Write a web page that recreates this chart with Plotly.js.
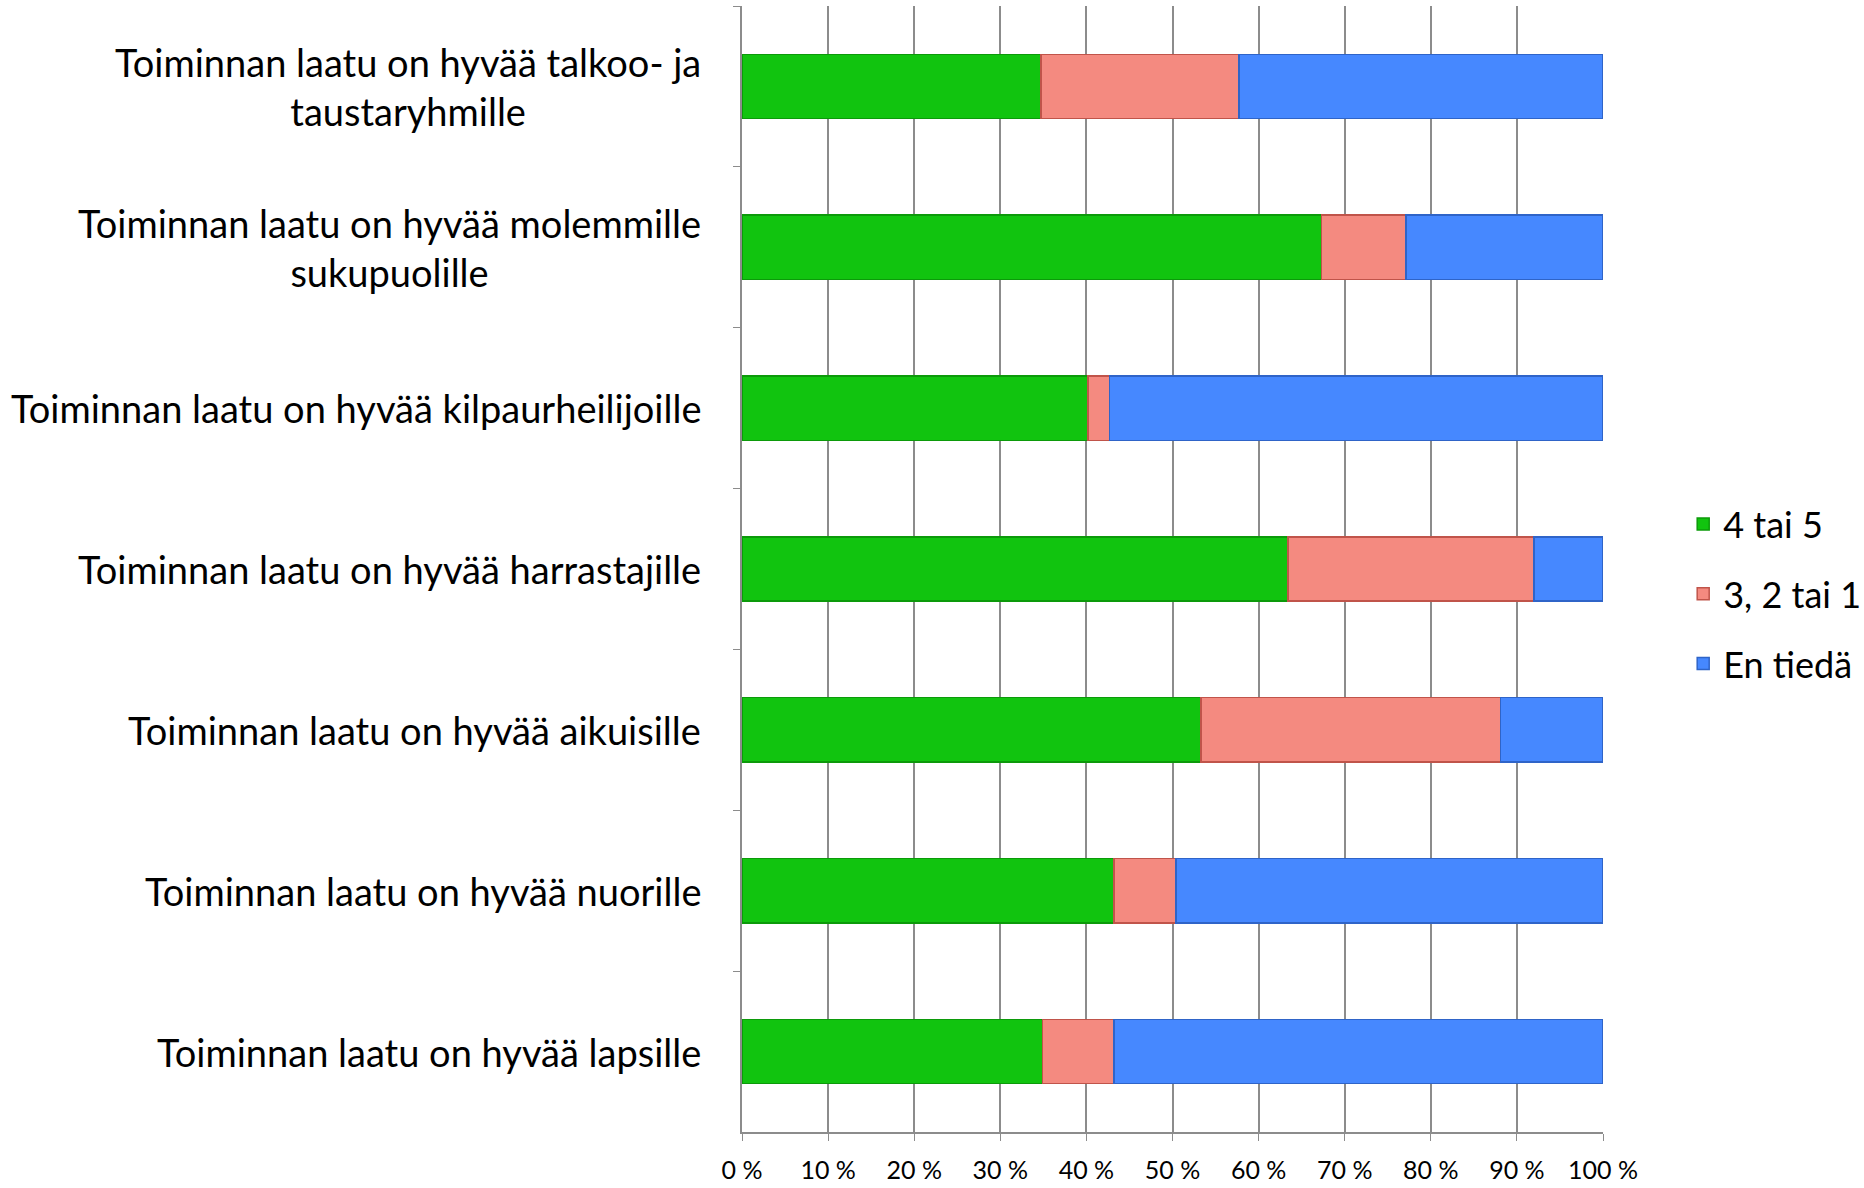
<!DOCTYPE html>
<html>
<head>
<meta charset="utf-8">
<script src="https://cdn.plot.ly/plotly-3.0.1.min.js"></script>
<style>
  html, body { margin: 0; padding: 0; background: #fff; }
  #chart { width: 1864px; height: 1188px; }
</style>
</head>
<body>
<div id="chart"></div>
<script>
// Categories, top to bottom
const categories = [
    'Toiminnan laatu on hyvää talkoo- ja<br>taustaryhmille',
    'Toiminnan laatu on hyvää molemmille<br>sukupuolille',
    'Toiminnan laatu on hyvää kilpaurheilijoille',
    'Toiminnan laatu on hyvää harrastajille',
    'Toiminnan laatu on hyvää aikuisille',
    'Toiminnan laatu on hyvää nuorille',
    'Toiminnan laatu on hyvää lapsille'
];

// Shares (%) per answer group
const good = [34.7, 67.3, 40.2, 63.4, 53.3, 43.2, 34.9];
const poor = [23.0, 9.8, 2.5, 28.6, 34.8, 7.2, 8.3];
const dontKnow = [42.3, 22.9, 57.3, 8.0, 11.9, 49.6, 56.8];

const seriesNames = ['4 tai 5', '3, 2 tai 1', 'En tiedä'];

const fontFamily = 'Lato, "Open Sans", sans-serif';
const gridColor = '#8c8c8c';

function barTrace(name, values, fill, edge, group) {
    return {
        type: 'bar',
        orientation: 'h',
        name,
        x: values,
        y: categories,
        legendgroup: group,
        marker: { color: fill, line: { color: edge, width: 1.5 } },
        hoverinfo: 'x+name',
    };
}

const traces = [
    barTrace(seriesNames[0], good, '#11c40f', '#0c9a0a', 'a'),
    barTrace(seriesNames[1], poor, '#f48a80', '#c0544a', 'b'),
    barTrace(seriesNames[2], dontKnow, '#4688ff', '#2f64c8', 'c'),
];

// Category labels drawn as annotations so two-line labels can be centred
const labelNotes = categories.map(c => ({
    text: c,
    xref: 'paper',
    x: -0.045,
    xanchor: 'right',
    yref: 'y',
    y: c,
    yanchor: 'middle',
    align: 'center',
    showarrow: false,
    font: { family: fontFamily, size: 38, color: '#000' },
}));

const layout = {
    width: 1864,
    height: 1188,
    paper_bgcolor: '#fff',
    plot_bgcolor: '#fff',
    font: { family: fontFamily, color: '#000' },
    margin: { l: 742, r: 261, t: 6, b: 56 },
    barmode: 'stack',
    bargap: 0.6,
    xaxis: {
        range: [0, 100],
        dtick: 10,
        ticksuffix: '\u00a0%',
        showgrid: true,
        gridcolor: gridColor,
        gridwidth: 1.5,
        showline: true,
        linecolor: gridColor,
        linewidth: 1.5,
        ticks: 'outside',
        ticklen: 7,
        tickcolor: gridColor,
        ticklabelstandoff: 8,
        zeroline: false,
        tickfont: { family: fontFamily, size: 25, color: '#000' },
    },
    yaxis: {
        type: 'category',
        range: [6.5, -0.5],
        showticklabels: false,
        showgrid: false,
        showline: true,
        linecolor: gridColor,
        linewidth: 1.5,
        ticks: 'outside',
        tickson: 'boundaries',
        ticklen: 7,
        tickcolor: gridColor,
    },
    showlegend: true,
    legend: {
        xref: 'container',
        x: 0.903,
        xanchor: 'left',
        yref: 'container',
        y: 0.5,
        yanchor: 'middle',
        traceorder: 'grouped',
        tracegroupgap: 20,
        font: { family: fontFamily, size: 36, color: '#000' },
        bgcolor: 'rgba(0,0,0,0)',
    },
    annotations: labelNotes,
};

Plotly.newPlot('chart', traces, layout, { displayModeBar: false, responsive: false });
</script>
</body>
</html>
